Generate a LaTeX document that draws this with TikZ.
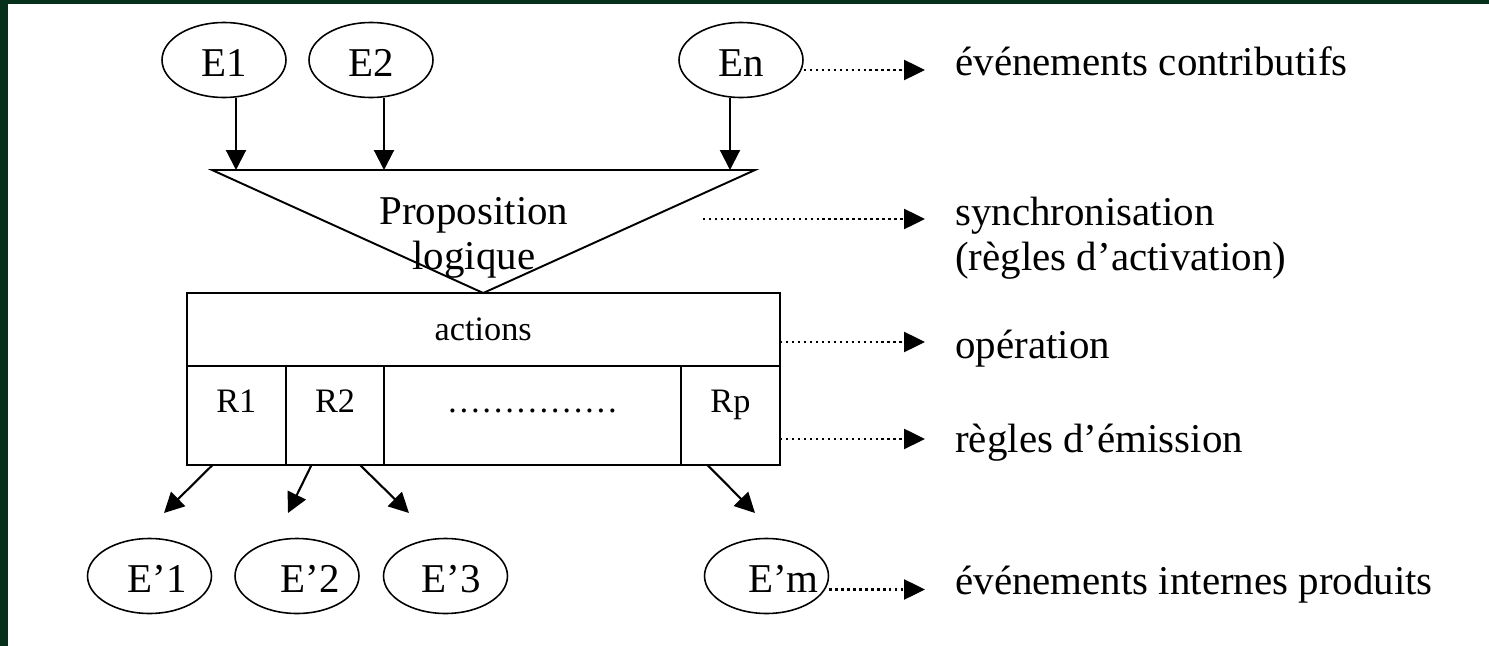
\documentclass[tikz,border=0pt]{standalone}
\usepackage{fontspec}
\setmainfont{Liberation Serif}
\usepackage{tikz}
\usetikzlibrary{arrows.meta,shapes.geometric,positioning}

\definecolor{frameGreen}{RGB}{7,48,26}
\newcommand{\mainsize}{\fontsize{23.3}{25.6}\selectfont}
\newcommand{\cellsize}{\fontsize{19.5}{21}\selectfont}

\begin{document}
\begin{tikzpicture}[x=0.02cm, y=-0.02cm,
    event/.style={ellipse, draw, line width=0.9pt, minimum width=2.48cm, minimum height=1.5cm,
        inner sep=0pt, font=\mainsize, text height=0.66cm, text depth=0cm},
    box/.style={rectangle, draw, line width=1.1pt, inner sep=0pt, outer sep=0pt, font=\cellsize},
    cell/.style={box, minimum height=1.98cm, text height=0.45cm, text depth=0.55cm},
    note/.style={inner sep=0pt, font=\mainsize, align=left},
    flow/.style={line width=1.2pt, -{Triangle[length=0.4cm, width=0.4cm]}},
    hint/.style={line width=1.4pt, dotted, -{Triangle[length=0.42cm, width=0.4cm]}, shorten >=0.6cm}
    ]
    \fill[white] (0,0) rectangle (1489,646);
    \fill[frameGreen] (0,0) rectangle (8,646);
    \fill[frameGreen] (0,0) rectangle (1489,4);
    \useasboundingbox (0,0) rectangle (1489,646);

    \node (Evt1) [event] at (224,60) {E1};
    \node (Evt2) [event] at (371,60) {E2};
    \node (EvtN) [event] at (741,60) {En};

    \node (Actions) [box, minimum width=11.87cm, minimum height=1.46cm] at (483.25,329.5) {actions};
    \node (Rule1) [cell, minimum width=1.99cm, below=0pt of Actions.south west, anchor=north west] {R1};
    \node (Rule2) [cell, minimum width=1.96cm, right=0pt of Rule1] {R2};
    \node (RuleDots) [cell, minimum width=5.94cm, right=0pt of Rule2] {……………};
    \node (RuleP) [cell, minimum width=1.98cm, right=0pt of RuleDots] {Rp};

    \coordinate (TriL) at (212,170);
    \coordinate (TriR) at (755,170);
    \draw[line width=1.1pt] (TriL) -- (TriR) -- (Actions.north) -- cycle;
    \node (Prop) [note, align=center] at (474,238) {Proposition\\logique};

    \draw[flow] ([xshift=0.24cm]Evt1.south) -- ([xshift=0.24cm]Evt1.south |- TriL);
    \draw[flow] ([xshift=0.26cm]Evt2.south) -- ([xshift=0.26cm]Evt2.south |- TriL);
    \draw[flow] ([xshift=-0.22cm]EvtN.south) -- ([xshift=-0.22cm]EvtN.south |- TriR);

    \node (Out1) [event] at (149.5,576) {\hspace*{0.15cm}E’1\hspace*{-0.15cm}};
    \node (Out2) [event] at (297,576) {\hspace*{0.26cm}E’2\hspace*{-0.26cm}};
    \node (Out3) [event] at (445.5,576) {\hspace*{0.12cm}E’3\hspace*{-0.12cm}};
    \node (OutM) [event] at (766.5,576) {\hspace*{0.34cm}E’m\hspace*{-0.34cm}};

    \coordinate (Tip1) at (164,513);
    \coordinate (Tip2) at (288,513);
    \coordinate (Tip3) at (409,513);
    \coordinate (TipM) at (755,513);
    \draw[flow] ([xshift=-0.475cm]Rule1.south) -- (Tip1);
    \draw[flow] ([xshift=-0.47cm]Rule2.south) -- (Tip2);
    \draw[flow] ([xshift=0.5cm]Rule2.south) -- (Tip3);
    \draw[flow] ([xshift=-0.46cm]RuleP.south) -- (TipM);

    \node (LblContrib) [note, anchor=base west] at (955,75) {événements contributifs};
    \node (LblSync) [note, anchor=west] at (955,238) {synchronisation\\(règles d’activation)};
    \node (LblOp) [note, anchor=base west] at (955,358) {opération};
    \node (LblEmit) [note, anchor=base west] at (955,452) {règles d’émission};
    \node (LblIntern) [note, anchor=base west] at (955,594) {événements internes produits};

    \coordinate (SyncStart) at (703,219);
    \draw[hint] ([yshift=-0.2cm]EvtN.east) -- ([yshift=-0.2cm]EvtN.east -| LblContrib.west);
    \draw[hint] (SyncStart) -- (SyncStart -| LblSync.west);
    \draw[hint] ([yshift=-0.25cm]Actions.east) -- ([yshift=-0.25cm]Actions.east -| LblOp.west);
    \draw[hint] ([yshift=-0.47cm]RuleP.east) -- ([yshift=-0.47cm]RuleP.east -| LblEmit.west);
    \draw[hint] ([yshift=-0.27cm]OutM.east) -- ([yshift=-0.27cm]OutM.east -| LblIntern.west);
\end{tikzpicture}
\end{document}
